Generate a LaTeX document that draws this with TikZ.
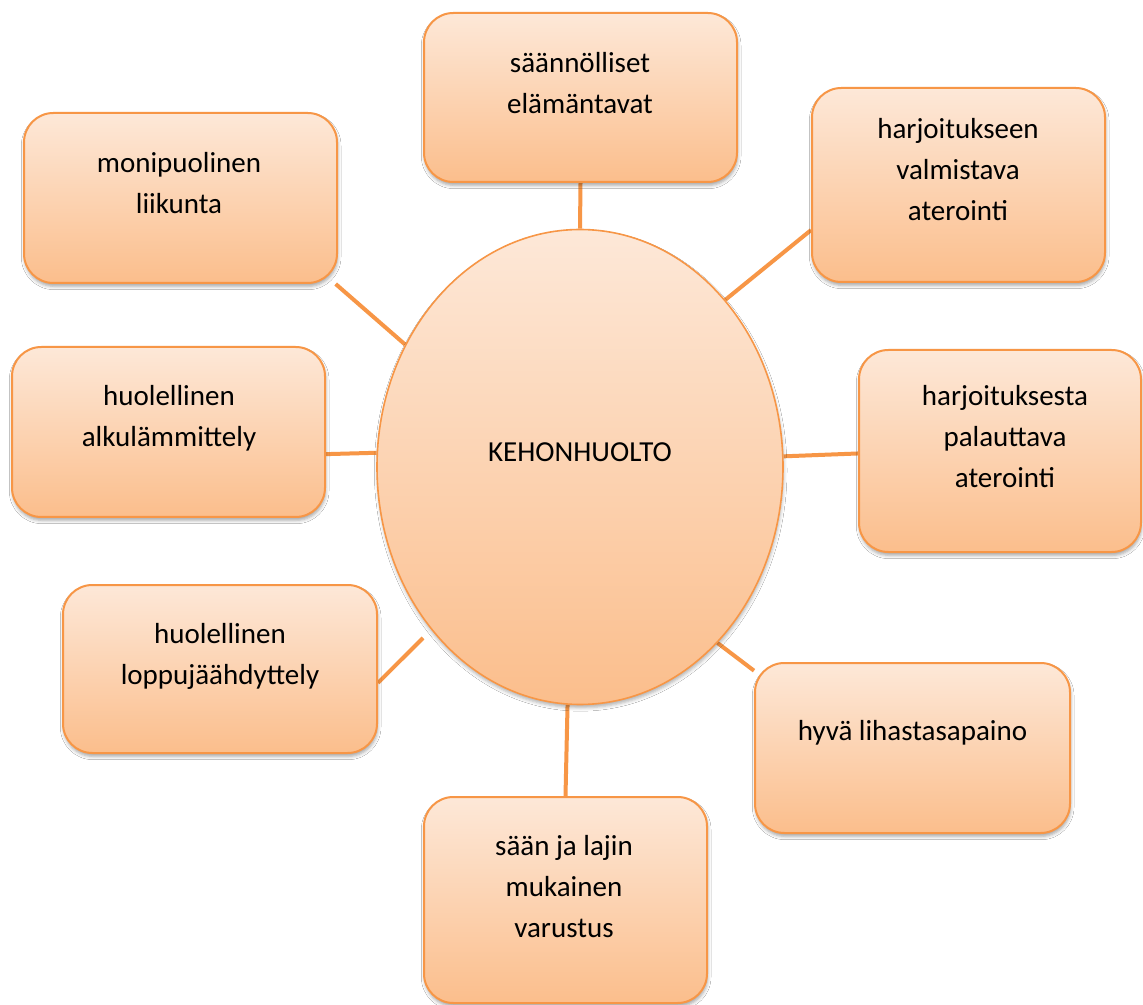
\documentclass[tikz,border=0pt]{standalone}
\usepackage{fontspec}
\setmainfont{Carlito}
\usetikzlibrary{shapes.geometric,shadows,shadows.blur,backgrounds}
\definecolor{orng}{HTML}{F79646}
\definecolor{ltop}{HTML}{FDE8D8}
\definecolor{lbot}{HTML}{FBBE8C}
\tikzset{
  sz/.style 2 args={minimum width=#1*0.75pt, minimum height=#2*0.75pt},
  box/.style={draw=orng, line width=1.5pt, rounded corners=22pt,
    top color=ltop, bottom color=lbot, inner sep=0pt,
    blur shadow={shadow xshift=0.5pt, shadow yshift=-2.5pt,
      shadow blur radius=2.5pt, shadow opacity=35}},
  oval/.style={ellipse, draw=orng, line width=1.2pt, top color=ltop,
    bottom color=lbot, inner sep=0pt, sz={406}{475},
    blur shadow={shadow xshift=0.5pt, shadow yshift=-2.5pt,
      shadow blur radius=2.5pt, shadow opacity=30}},
  txt/.style={font=\fontsize{21.75pt}{30.75pt}\selectfont, align=center,
    inner sep=0pt, anchor=north},
  link/.style={draw=orng, line width=3pt},
}
\begin{document}
\begin{tikzpicture}[x=0.75pt, y=-0.75pt]
\useasboundingbox (0,0) rectangle (1143,1005);
% central ellipse
\node[oval] (e) at (580,467) {};
\node[txt, anchor=base] (te) at (580,462) {KEHONHUOLTO};
% boxes
\node[box, sz={313}{169}] (b1) at (580.5,97.5) {};
\node[box, sz={313}{170}] (b2) at (180.5,198) {};
\node[box, sz={313}{170}] (b3) at (168.5,432) {};
\node[box, sz={314}{168}] (b4) at (220,669) {};
\node[box, sz={283}{206}] (b5) at (565.5,900) {};
\node[box, sz={315}{170}] (b6) at (912.5,748) {};
\node[box, sz={282}{202}] (b7) at (1000,451) {};
\node[box, sz={293}{194}] (b8) at (958.5,185) {};
% texts
\node[txt] (t1) at (580,52) {säännölliset\\elämäntavat};
\node[txt] (t2) at (179,152) {monipuolinen\\liikunta};
\node[txt] (t3) at (169,385) {huolellinen\\alkulämmittely};
\node[txt] (t4) at (220,623) {huolellinen\\loppujäähdyttely};
\node[txt] (t5) at (564,835) {sään ja lajin\\mukainen\\varustus};
\node[txt, anchor=base] (t6) at (912.5,740) {hyvä lihastasapaino};
\node[txt] (t7) at (1005,385) {harjoituksesta\\palauttava\\aterointi};
\node[txt] (t8) at (958,118) {harjoitukseen\\valmistava\\aterointi};
\coordinate (c4) at (423,638);
% connectors
\begin{scope}[on background layer]
\fill[white] (0,0) rectangle (1143,1005);
\draw[link] (b1.south) -- (e.north);
\draw[link] (e.49) -- (b8.197);
\draw[link] (e.3.4) -- (b7.181.6);
\draw[link] (e.-52.4) -- (b6.154);
\draw[link] (e.-93.6) -- (b5.north);
\draw[link] (c4) -- (b4.-5.8);
\draw[link] (b3.-8.4) -- (e.176.6);
\draw[link] (b2.-29.8) -- (e.145.9);
\end{scope}
\end{tikzpicture}
\end{document}
